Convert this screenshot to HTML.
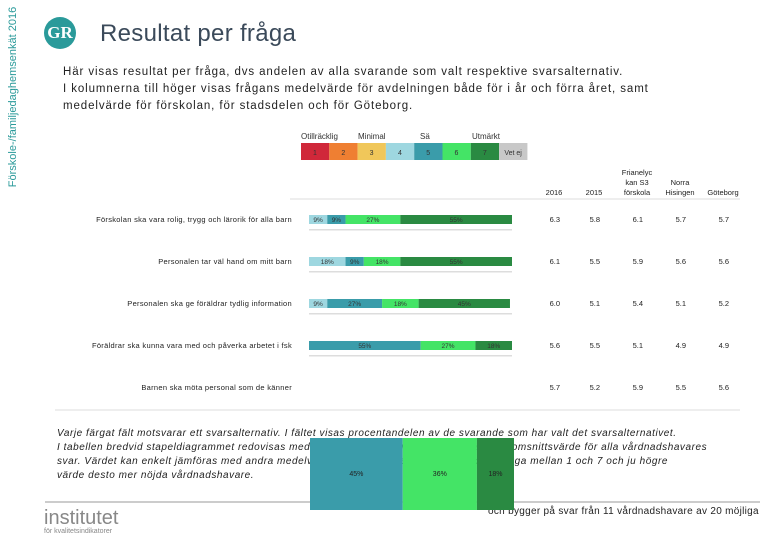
<!DOCTYPE html>
<html><head><meta charset="utf-8"><style>
body{margin:0;width:780px;height:540px;background:#fff;font-family:"Liberation Sans",sans-serif;position:relative;overflow:hidden}
.a{position:absolute;white-space:nowrap}
</style></head><body>
<div class="a" style="left:-87px;top:91px;width:200px;transform:rotate(-90deg);font-size:11px;color:#2a9a9a;text-align:center">Förskole-/familjedaghemsenkät 2016</div>
<div class="a" style="left:44px;top:17px;width:32px;height:32px;border-radius:50%;background:#2a9a9a;color:#fff;font:bold 17px 'Liberation Serif',serif;text-align:center;line-height:32px">GR</div>
<div class="a" style="left:100px;top:20px;font-size:24px;color:#3b4a5a;letter-spacing:0.3px">Resultat per fråga</div>
<div class="a" style="left:63px;top:64px;font-size:11.5px;line-height:17px;color:#222;letter-spacing:0.9px">Här visas resultat per fråga, dvs andelen av alla svarande som valt respektive svarsalternativ.<br>I kolumnerna till höger visas frågans medelvärde för avdelningen både för i år och förra året, samt<br>medelvärde för förskolan, för stadsdelen och för Göteborg.</div>
<div class="a" style="left:57px;top:427px;font-size:10px;line-height:14px;font-style:italic;color:#222;letter-spacing:0.55px">Varje färgat fält motsvarar ett svarsalternativ. I fältet visas procentandelen av de svarande som har valt det svarsalternativet.<br>I tabellen bredvid stapeldiagrammet redovisas medelvärdet för varje fråga, det vill säga genomsnittsvärde för alla vårdnadshavares<br>svar. Värdet kan enkelt jämföras med andra medelvärden. Medelvärdet kan vid beräkning ligga mellan 1 och 7 och ju högre<br>värde desto mer nöjda vårdnadshavare.</div>
<div class="a" style="left:44px;top:508px;font-size:20px;color:#888;line-height:20px">institutet<div style="font-size:7px;line-height:8px">för kvalitetsindikatorer</div></div>
<div class="a" style="left:488px;top:506px;font-size:10px;color:#222;letter-spacing:0.3px">och bygger på svar från 11 vårdnadshavare av 20 möjliga</div>
<svg id="c" class="a" style="left:0;top:0" width="780" height="540"></svg>
<script>
const questions=["Förskolan ska vara rolig, trygg och lärorik för alla barn","Personalen tar väl hand om mitt barn","Personalen ska ge föräldrar tydlig information","Föräldrar ska kunna vara med och påverka arbetet i fsk","Barnen ska möta personal som de känner"];
const s4=[9,18,9,0,0];
const s5=[9,9,27,55,0];
const s6=[27,18,18,27,0];
const s7=[55,55,45,18,0];
const colHeaders=["2016","2015","Frianelyc\nkan S3\nförskola","Norra\nHisingen","Göteborg"];
const m2016=[6.3,6.1,6.0,5.6,5.7];
const m2015=[5.8,5.5,5.1,5.5,5.2];
const mSchool=[6.1,5.9,5.4,5.1,5.9];
const mDistrict=[5.7,5.6,5.1,4.9,5.5];
const mCity=[5.7,5.6,5.2,4.9,5.6];
const legendLabels=["1","2","3","4","5","6","7","Vet ej"];
const popupVals=[45,36,18];
const svg=document.getElementById('c');const NS='http://www.w3.org/2000/svg';
function el(t,a,txt){const e=document.createElementNS(NS,t);for(const k in a)e.setAttribute(k,a[k]);if(txt!=null)e.textContent=txt;svg.appendChild(e);return e;}
const colors=["#d0283a","#ef7f32","#f0c75a","#9ed7e0","#3a9caa","#44e466","#2a8a42","#c8c8c8"];
const segColors=[colors[3],colors[4],colors[5],colors[6]];
const x0=309,W=203;const xs=v=>v/100*W;
const rowY=i=>215+i*42;
legendLabels.forEach((l,i)=>{const r=el('rect',{x:301+i*28.3,y:143,width:28.3,height:17,fill:colors[i]});

el('text',{x:301+i*28.3+14,y:155,'font-size':7,'text-anchor':'middle',fill:'#333'},l);});
[["Otillräcklig",301],["Minimal",358],["Sä",420],["Utmärkt",472]].forEach(a=>el('text',{x:a[1],y:139,'font-size':8,fill:'#333'},a[0]));
const colX=[562,602,645,688,731];
colHeaders.forEach((h,i)=>{const lines=h.split("\n");lines.forEach((ln,j)=>el('text',{x:colX[i]-8,y:195-(lines.length-1-j)*10,'font-size':7.5,'text-anchor':'middle',fill:'#222'},ln));});
el('line',{x1:290,y1:199,x2:740,y2:199,stroke:'#ddd'});
const means=[m2016,m2015,mSchool,mDistrict,mCity];
questions.forEach((q,i)=>{const y=rowY(i);
const t=el('text',{x:292,y:y+7,'font-size':7.5,'text-anchor':'end',fill:'#222','letter-spacing':'0.3'},q);

let x=x0;[s4,s5,s6,s7].forEach((s,k)=>{const v=s[i];if(!v)return;const w=xs(v);
const r=el('rect',{x:x,y:y,width:w,height:9,fill:segColors[k]});

el('text',{x:x+w/2,y:y+7,'font-size':6.5,'text-anchor':'middle',fill:'#333'},v+'%');x+=w;});
if(s4[i]+s5[i]+s6[i]+s7[i]>0)el('rect',{x:x0,y:y+14,width:W,height:1.5,fill:'#ddd'});
means.forEach((m,k)=>el('text',{x:colX[k]-2,y:y+7,'font-size':7.5,'text-anchor':'end',fill:'#222'},m[i].toFixed(1)));});
el('line',{x1:55,y1:410,x2:740,y2:410,stroke:'#ddd'});
el('line',{x1:45,y1:502,x2:760,y2:502,stroke:'#999'});
let px=310;const pc=[colors[4],colors[5],colors[6]];const PW=204/99;
popupVals.forEach((v,k)=>{const w=v*PW;const r=el('rect',{x:px,y:438,width:w,height:72,fill:pc[k]});

el('text',{x:px+w/2,y:476,'font-size':7,'text-anchor':'middle',fill:'#222'},v+'%');px+=w;});
</script>
</body></html>
